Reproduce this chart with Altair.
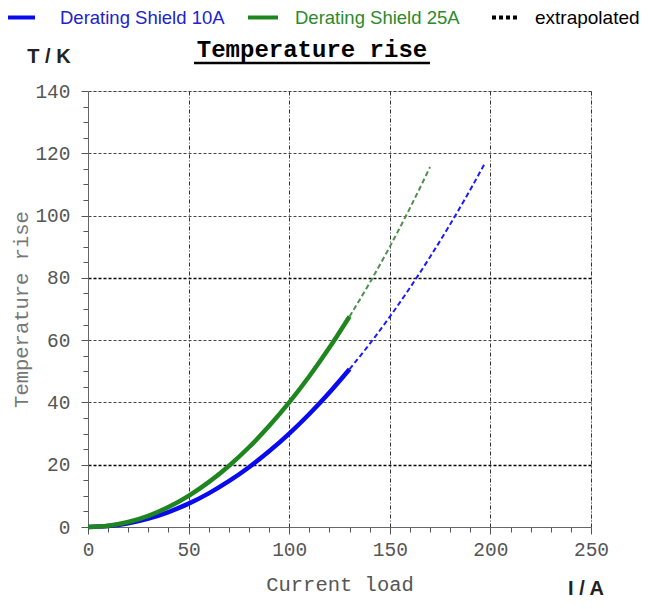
import altair as alt
import pandas as pd

# ---- data ----
I_solid = [0, 10, 20, 30, 40, 50, 60, 70, 80, 90, 100, 110, 120, 130]
T10_solid = [0.0, 0.3, 1.2, 2.7, 4.8, 7.5, 10.8, 14.7, 19.2, 24.3, 30.0, 36.3, 43.2, 50.7]
T25_solid = [0.0, 0.4, 1.6, 3.6, 6.4, 10.0, 14.4, 19.6, 25.6, 32.4, 40.0, 48.4, 57.6, 67.6]
I10_ext = [130, 140, 150, 160, 170, 180, 190, 197]
T10_ext = [50.7, 58.8, 67.5, 76.8, 86.7, 97.2, 108.3, 116.5]
I25_ext = [130, 140, 150, 160, 170]
T25_ext = [67.6, 78.4, 90.0, 102.4, 115.6]

x_ticks = list(range(0, 251, 10))
y_ticks = list(range(0, 141, 5))

rows = []
for i, t in zip(I_solid, T10_solid):
    rows.append({"I": i, "T": t, "key": "10A solid"})
for i, t in zip(I_solid, T25_solid):
    rows.append({"I": i, "T": t, "key": "25A solid"})
for i, t in zip(I10_ext, T10_ext):
    rows.append({"I": i, "T": t, "key": "10A ext"})
for i, t in zip(I25_ext, T25_ext):
    rows.append({"I": i, "T": t, "key": "25A ext"})
df = pd.DataFrame(rows)

keys = ["10A solid", "25A solid", "10A ext", "25A ext"]
cols = ["#0a0aee", "#1f861f", "#1a1aff", "#4f8f4f"]
color_scale = alt.Scale(domain=keys, range=cols)

W, H = 503, 436
MONO = "Liberation Mono"
SANS = "Liberation Sans"

x_axis = alt.Axis(
    values=x_ticks,
    labelExpr="datum.value % 50 === 0 ? datum.label : ''",
    labelFont=MONO, labelFontSize=19.5, labelColor="#555555", labelOverlap=False,
    labelFlush=False, labelPadding=6,
    tickSize={"condition": {"test": "datum.value % 50 === 0", "value": 7}, "value": 5},
    tickColor="#555555",
    domainColor="#666666",
    grid=True,
    gridOpacity={"condition": {"test": "datum.value % 50 === 0 && datum.value > 0", "value": 1}, "value": 0},
    gridDash=[4, 2, 1, 2], gridColor="#333333", gridWidth=1,
    title="Current load", titleFont=MONO, titleFontSize=20.5, titleFontWeight="normal",
    titleColor="#555555", titlePadding=16,
)
y_axis = alt.Axis(
    values=y_ticks,
    labelExpr="datum.value % 20 === 0 ? datum.label : ''",
    labelFont=MONO, labelFontSize=19.5, labelColor="#555555", labelOverlap=False,
    labelFlush=False, labelPadding=11,
    tickSize={"condition": {"test": "datum.value % 20 === 0", "value": 7}, "value": 5},
    tickColor="#555555",
    domainColor="#666666",
    grid=True,
    gridOpacity={"condition": {"test": "datum.value % 20 === 0 && datum.value > 0", "value": 1}, "value": 0},
    gridColor={"condition": {"test": "datum.value === 20 || datum.value === 80", "value": "#000000"}, "value": "#444444"},
    gridWidth={"condition": {"test": "datum.value === 20 || datum.value === 80", "value": 1.5}, "value": 1},
    gridDash=[3, 2],
    title="Temperature rise", titleFont=MONO, titleFontSize=20.5, titleFontWeight="normal",
    titleColor="#777777", titlePadding=3,
)

base = alt.Chart(df)
enc_x = alt.X("I:Q", scale=alt.Scale(domain=[0, 250], nice=False), axis=x_axis)
enc_y = alt.Y("T:Q", scale=alt.Scale(domain=[0, 140], nice=False), axis=y_axis)
enc_c = alt.Color("key:N", scale=color_scale, legend=None)

solid = base.transform_filter("indexof(datum.key, 'solid') >= 0").mark_line(
    strokeWidth=4.5, interpolate="monotone"
).encode(x=enc_x, y=enc_y, color=enc_c, detail="key:N")

ext = base.transform_filter("indexof(datum.key, 'ext') >= 0").mark_line(
    strokeWidth=2, strokeDash=[5, 3], interpolate="monotone"
).encode(x=enc_x, y=enc_y, color=enc_c, detail="key:N")

one = pd.DataFrame({"a": [0]})

def txt(s, x, y, size, color, font=SANS, weight="normal", align="left", baseline="middle"):
    return alt.Chart(one).mark_text(
        text=s, font=font, fontSize=size, fontWeight=weight, color=color,
        align=align, baseline=baseline
    ).encode(x=alt.value(x), y=alt.value(y))

def seg(x1, x2, y, color, width, dash=None):
    kw = dict(color=color, strokeWidth=width)
    if dash:
        kw["strokeDash"] = dash
    return alt.Chart(one).mark_rule(**kw).encode(x=alt.value(x1), x2=alt.value(x2), y=alt.value(y))

title = txt("Temperature rise", 224, -34, 24, "#000000", font=MONO, weight="bold",
            align="center", baseline="alphabetic")
underline = seg(106, 342, -28, "#000000", 2.5)
tk = txt("T / K", -39, -34, 20, "#222222", weight="bold", align="center")
ia = txt("I / A", 498, 498, 20, "#222222", weight="bold", align="center")

LY = -73.5
leg = [
    seg(-81, -53, LY, "#0a0aee", 4),
    txt("Derating Shield 10A", -28, LY, 18.5, "#2222cc"),
    seg(160, 190, LY, "#1f861f", 4),
    txt("Derating Shield 25A", 207, LY, 18.5, "#2b8a2b"),
    seg(404, 430, LY, "#000000", 4, [4, 3]),
    txt("extrapolated", 447, LY, 19, "#000000"),
]

chart = alt.layer(solid, ext, title, underline, tk, ia, *leg).properties(
    width=W, height=H,
    autosize=alt.AutoSizeParams(type="none"),
    padding={"left": 80, "top": 83, "right": 53, "bottom": 74},
).configure_view(stroke=None).configure(background="white")

chart.save("out.html", embed_options={"renderer": "svg", "actions": False})
